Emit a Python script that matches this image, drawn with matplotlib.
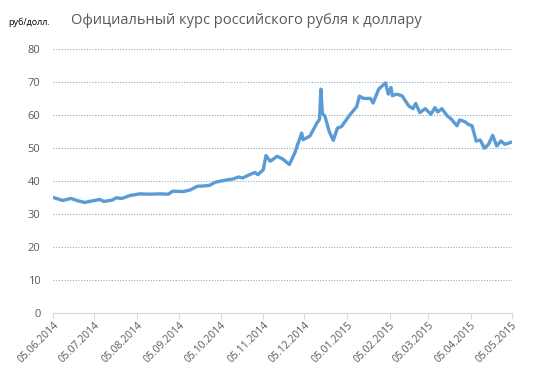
import matplotlib
matplotlib.use("Agg")
import matplotlib.pyplot as plt
import matplotlib.dates as mdates
import numpy as np

# rate points (date, rub per usd)
dates = ["2014-06-05", "2014-06-12", "2014-06-18", "2014-06-23", "2014-06-28",
         "2014-07-04", "2014-07-09", "2014-07-12", "2014-07-18", "2014-07-21",
         "2014-07-25", "2014-07-31", "2014-08-07", "2014-08-14", "2014-08-22",
         "2014-08-28", "2014-08-31", "2014-09-08", "2014-09-13", "2014-09-18",
         "2014-09-23", "2014-09-27", "2014-10-01", "2014-10-09", "2014-10-14",
         "2014-10-18", "2014-10-21", "2014-10-26", "2014-10-30", "2014-11-01",
         "2014-11-05", "2014-11-07", "2014-11-10", "2014-11-12", "2014-11-15",
         "2014-11-19", "2014-11-24", "2014-11-28", "2014-11-30", "2014-12-03",
         "2014-12-04", "2014-12-09", "2014-12-14", "2014-12-16", "2014-12-17",
         "2014-12-18", "2014-12-20", "2014-12-23", "2014-12-26", "2014-12-29",
         "2015-01-01", "2015-01-07", "2015-01-12", "2015-01-14", "2015-01-17",
         "2015-01-22", "2015-01-24", "2015-01-28", "2015-02-02", "2015-02-04",
         "2015-02-06", "2015-02-07", "2015-02-10", "2015-02-14", "2015-02-19",
         "2015-02-22", "2015-02-24", "2015-02-27", "2015-03-03", "2015-03-07",
         "2015-03-10", "2015-03-12", "2015-03-15", "2015-03-19", "2015-03-22",
         "2015-03-26", "2015-03-28", "2015-04-01", "2015-04-03", "2015-04-06",
         "2015-04-09", "2015-04-12", "2015-04-15", "2015-04-18", "2015-04-21",
         "2015-04-24", "2015-04-27", "2015-04-30", "2015-05-05"]
rates = [35.0, 34.1, 34.7, 34.0, 33.5,
         34.0, 34.4, 33.8, 34.2, 34.9,
         34.7, 35.6, 36.1, 36.0, 36.1,
         36.0, 36.9, 36.8, 37.3, 38.4,
         38.5, 38.7, 39.6, 40.3, 40.6,
         41.2, 40.9, 41.9, 42.6, 41.9,
         43.4, 47.7, 46.0, 46.5, 47.5,
         46.7, 45.0, 48.5, 51.0, 54.5,
         52.5, 53.6, 57.5, 58.7, 67.8,
         60.5, 59.5, 55.0, 52.3, 56.0,
         56.5, 60.0, 62.5, 65.7, 65.0,
         65.0, 63.6, 67.8, 69.7, 66.3,
         68.3, 65.8, 66.3, 65.8, 62.7,
         61.9, 63.5, 60.7, 61.9, 60.2,
         62.2, 60.9, 61.9, 59.7, 58.7,
         56.7, 58.5, 57.9, 57.2, 56.7,
         52.1, 52.4, 49.9, 51.1, 53.8,
         50.6, 52.1, 51.1, 51.8]
tick_dates = ["2014-06-05", "2014-07-05", "2014-08-05", "2014-09-05",
              "2014-10-05", "2014-11-05", "2014-12-05", "2015-01-05",
              "2015-02-05", "2015-03-05", "2015-04-05", "2015-05-05"]
y_ticks = [0, 10, 20, 30, 40, 50, 60, 70, 80]

plt.rcParams['font.family'] = ['Open Sans', 'DejaVu Sans']

x = np.array(dates, dtype='datetime64[D]')
xt = np.array(tick_dates, dtype='datetime64[D]')

fig = plt.figure(figsize=(5.36, 3.79), dpi=100)
ax = fig.add_axes([0.099, 0.174, 0.856, 0.697])

ax.plot(x, rates, color='#5b9bd5', linewidth=2.4, solid_joinstyle='round')

ax.set_ylim(0, 80)
ax.set_yticks(y_ticks)
ax.set_xlim(xt[0], xt[-1])
ax.set_xticks(xt)
ax.xaxis.set_major_formatter(mdates.DateFormatter('%d.%m.%Y'))

ax.yaxis.grid(True, linestyle=(0, (1, 1.5)), color='#8eaac0', linewidth=0.8)
ax.set_axisbelow(True)
for s in ['top', 'right', 'left']:
    ax.spines[s].set_visible(False)
ax.spines['bottom'].set_color('#d9d9d9')

ax.tick_params(axis='y', length=0, pad=9, labelsize=8, labelcolor='#595959')
ax.tick_params(axis='x', length=4, color='#d9d9d9', labelsize=7.5,
               labelcolor='#595959', pad=1)
for lbl in ax.get_xticklabels():
    lbl.set_rotation(45)
    lbl.set_ha('right')
    lbl.set_rotation_mode('anchor')

fig.text(0.132, 0.945, 'Официальный курс российского рубля к доллару',
         fontsize=10.5, color='#595959', ha='left', va='center')
fig.text(0.015, 0.94, 'руб/долл.', fontsize=6.5, color='black',
         ha='left', va='center')

fig.savefig('out.png', dpi=100)
